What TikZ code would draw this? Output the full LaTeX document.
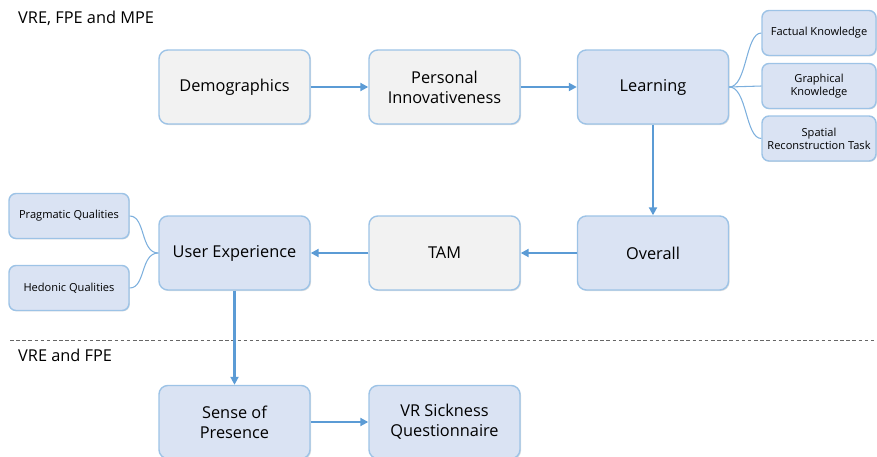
\documentclass[tikz,border=0pt]{standalone}
\usepackage{fontspec}
\setmainfont{Open Sans}
\usetikzlibrary{arrows.meta,shadows}
\definecolor{boxborder}{HTML}{9DC3E6}
\definecolor{grayfill}{HTML}{F2F2F2}
\definecolor{bluefill}{HTML}{DAE3F3}
\definecolor{arrowcol}{HTML}{5B9BD5}
\tikzset{
  bigbox/.style={draw=boxborder, line width=0.8pt, rounded corners=5pt, minimum width=151*0.02cm, minimum height=74*0.02cm, align=center, font=\fontsize{9.3}{11.5}\selectfont, inner sep=1pt, drop shadow={shadow xshift=0.6pt, shadow yshift=-0.6pt, opacity=0.25}},
  graybox/.style={bigbox, fill=grayfill},
  bluebox/.style={bigbox, fill=bluefill},
  smallbox/.style={draw=boxborder, line width=0.8pt, fill=bluefill, rounded corners=4pt, minimum height=45*0.02cm, align=center, font=\fontsize{6.3}{7.5}\selectfont, inner sep=1pt, drop shadow={shadow xshift=0.5pt, shadow yshift=-0.5pt, opacity=0.25}},
  flow/.style={draw=arrowcol, line width=1.4pt, -{Triangle[length=4.5pt,width=4.5pt]}},
  twig/.style={draw=arrowcol!80, line width=0.6pt},
  heading/.style={anchor=west, font=\fontsize{9.3}{11}\selectfont}
}
\begin{document}
\begin{tikzpicture}[x=0.02cm,y=-0.02cm]
\useasboundingbox (0,0) rectangle (877,457);
\node[heading] (h1) at (12,18) {VRE, FPE and MPE};
\node[heading] (h2) at (12,355) {VRE and FPE};
\draw[dash pattern=on 2pt off 1.5pt, line width=0.4pt, black!60] (10,340) coordinate (d1) -- (877,340) coordinate (d2);

\node[graybox] (demo) at (234.5,87) {Demographics};
\node[graybox] (pers) at (444.5,87) {Personal\\Innovativeness};
\node[bluebox] (learn) at (653,87) {Learning};
\node[bluebox] (overall) at (653,253) {Overall};
\node[graybox] (tam) at (444.5,253) {TAM};
\node[bluebox] (ux) at (234.5,253) {User Experience};
\node[bluebox, minimum height=73*0.02cm] (sop) at (234.5,422) {Sense of\\Presence};
\node[bluebox, minimum height=73*0.02cm] (vrsq) at (444.5,422) {VR Sickness\\Questionnaire};

\node[smallbox, minimum width=114*0.02cm] (fact) at (819,33) {Factual Knowledge};
\node[smallbox, minimum width=114*0.02cm] (graph) at (819,86) {Graphical\\Knowledge};
\node[smallbox, minimum width=114*0.02cm] (spat) at (819,138.5) {Spatial\\Reconstruction Task};

\node[smallbox, minimum width=120*0.02cm] (prag) at (69,216) {Pragmatic Qualities};
\node[smallbox, minimum width=120*0.02cm] (hed) at (69,288) {Hedonic Qualities};

\draw[flow] (demo) -- (pers);
\draw[flow] (pers) -- (learn);
\draw[flow] (learn) -- (overall);
\draw[flow] (overall) -- (tam);
\draw[flow] (tam) -- (ux);
\draw[flow] (ux.south) -- (sop.north);
\draw[flow] (sop) -- (vrsq);

\draw[twig] (learn.east) .. controls +(18,0) and +(-16,0) .. (fact.west);
\draw[twig] (learn.east) -- (graph.west);
\draw[twig] (learn.east) .. controls +(18,0) and +(-16,0) .. (spat.west);
\draw[twig] (prag.east) .. controls +(16,0) and +(-18,0) .. (ux.west);
\draw[twig] (hed.east) .. controls +(16,0) and +(-18,0) .. (ux.west);
\end{tikzpicture}
\end{document}
